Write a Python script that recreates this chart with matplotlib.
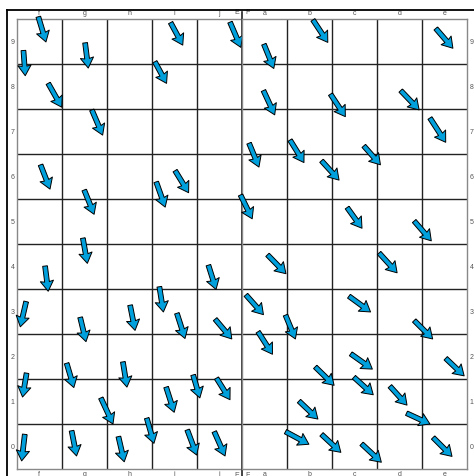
import matplotlib
matplotlib.use("Agg")
import matplotlib.pyplot as plt
from matplotlib.lines import Line2D
import numpy as np

plt.rcParams['font.family'] = ['Liberation Sans', 'DejaVu Sans']

# ---- data ----
left_cols = ['f', 'g', 'h', 'i', 'j']
right_cols = ['a', 'b', 'c', 'd', 'e']
row_labels = [str(i) for i in range(10)]

# left panel arrows: tail x, tail y, u, v (cell units)
left_x = [0.48, 1.52, 0.15, 0.70, 3.42, 3.07, 4.74, 1.67, 0.53, 1.50, 3.10, 3.52, 1.47,
          0.63, 4.26, 0.21, 3.17, 1.41, 2.52, 3.56, 4.41, 1.11, 2.36, 0.22, 3.92, 4.44,
          3.32, 1.87, 0.18, 1.22, 2.26, 2.89, 3.79, 4.39]
left_y = [10.05, 9.47, 9.30, 8.57, 9.92, 9.05, 9.93, 7.98, 6.76, 6.20, 6.38, 6.63, 5.13,
          4.51, 4.53, 3.72, 4.05, 3.37, 3.64, 3.46, 3.33, 2.35, 2.38, 2.13, 2.09, 2.02,
          1.82, 1.58, 0.77, 0.85, 0.72, 1.13, 0.87, 0.83]
left_u = [0.17, 0.07, 0.04, 0.30, 0.27, 0.26, 0.24, 0.24, 0.21, 0.22, 0.20, 0.30, 0.10,
          0.07, 0.17, -0.13, 0.09, 0.13, 0.11, 0.18, 0.37, 0.16, 0.09, -0.09, 0.15, 0.30,
          0.18, 0.27, -0.07, 0.11, 0.13, 0.16, 0.21, 0.24]
left_v = [-0.56, -0.56, -0.56, -0.53, -0.50, -0.48, -0.56, -0.56, -0.54, -0.54, -0.56, -0.49, -0.56,
          -0.56, -0.54, -0.56, -0.56, -0.54, -0.56, -0.56, -0.44, -0.54, -0.56, -0.53, -0.51, -0.48,
          -0.56, -0.58, -0.59, -0.56, -0.56, -0.56, -0.56, -0.54]

# right panel arrows
right_x = [0.48, 1.57, 4.30, 0.47, 1.96, 3.52, 4.17, 0.15, 1.06, 1.76, 2.70, -0.04, 2.33,
           3.82, 0.56, 3.04, 0.08, 0.96, 0.35, 2.37, 3.82, 2.41, 1.62, 4.52, 2.48, 3.28,
           1.26, 3.65, 0.96, 1.76, 2.65, 4.24]
right_y = [9.44, 9.98, 9.79, 8.41, 8.33, 8.41, 7.80, 7.24, 7.31, 6.85, 7.18, 6.09, 5.81,
           5.51, 4.76, 4.80, 3.87, 3.42, 3.05, 3.84, 3.30, 2.56, 2.27, 2.46, 2.04, 1.84,
           1.51, 1.24, 0.83, 0.77, 0.56, 0.70]
right_u = [0.22, 0.33, 0.38, 0.25, 0.33, 0.41, 0.35, 0.22, 0.31, 0.39, 0.37, 0.26, 0.33,
           0.38, 0.41, 0.40, 0.39, 0.22, 0.32, 0.48, 0.41, 0.48, 0.42, 0.41, 0.43, 0.38,
           0.42, 0.52, 0.52, 0.43, 0.44, 0.42]
right_v = [-0.54, -0.50, -0.44, -0.54, -0.50, -0.43, -0.54, -0.53, -0.50, -0.43, -0.42, -0.53, -0.46,
           -0.44, -0.42, -0.44, -0.44, -0.53, -0.50, -0.35, -0.41, -0.34, -0.41, -0.39, -0.39, -0.42,
           -0.40, -0.24, -0.28, -0.40, -0.41, -0.42]

# ---- figure ----
W, H = 474, 476
fig = plt.figure(figsize=(W / 100, H / 100), dpi=100)

ax_l = fig.add_axes([16.7 / W, 7 / H, 225 / W, 450 / H])
ax_r = fig.add_axes([242.3 / W, 7 / H, 225 / W, 450 / H])

arrow_col = '#00a0dc'
grid_col = '#222222'
spine_col = '#888888'
lab_col = '#555555'


def style(ax, cols, side):
    ax.set_xlim(0, 5)
    ax.set_ylim(0, 10)
    for k in range(1, 5):
        ax.axvline(k, color=grid_col, lw=1.0, zorder=1)
    for k in range(1, 10):
        ax.axhline(k, color=grid_col, lw=1.0, zorder=1)
    ax.set_xticks(np.arange(5) + 0.5)
    ax.set_xticklabels(cols)
    ax.set_yticks(np.arange(10) + 0.5)
    ax.set_yticklabels(row_labels)
    ax.tick_params(axis='x', top=True, labeltop=True, bottom=True, labelbottom=True,
                   length=0, pad=1.2, labelsize=5, labelcolor=lab_col)
    if side == 'left':
        ax.tick_params(axis='y', left=True, labelleft=True, right=False, labelright=False,
                       length=0, pad=1.5, labelsize=5, labelcolor=lab_col)
    else:
        ax.tick_params(axis='y', left=False, labelleft=False, right=True, labelright=True,
                       length=0, pad=1.5, labelsize=5, labelcolor=lab_col)
    for s in ax.spines.values():
        s.set_color(spine_col)
        s.set_linewidth(1.0)


style(ax_l, left_cols, 'left')
style(ax_r, right_cols, 'right')

# central dividing line
ax_l.plot([5, 5], [-0.16, 10.15], color=grid_col, lw=1.2, clip_on=False, zorder=3)

# E / F edge labels
for yy, va in [(10.0, 'bottom'), (0.0, 'top')]:
    off = 2.5 if va == 'bottom' else -2.0
    ax_l.annotate('E', (5, yy), xytext=(-2, off), textcoords='offset points',
                  ha='right', va=va, fontsize=5, color=lab_col, annotation_clip=False)
    ax_r.annotate('F', (0, yy), xytext=(2, off), textcoords='offset points',
                  ha='left', va=va, fontsize=5, color=lab_col, annotation_clip=False)

qkw = dict(angles='xy', scale_units='xy', scale=1, units='xy', width=0.105,
           headwidth=2.8, headlength=2.2, headaxislength=2.0, pivot='tail',
           color=arrow_col, edgecolor='black', linewidth=0.7, zorder=4, clip_on=False)
ax_l.quiver(left_x, left_y, left_u, left_v, **qkw)
ax_r.quiver(right_x, right_y, right_u, right_v, **qkw)

# outer border (top and left edges of the frame)
fig.add_artist(Line2D([7 / W, 1.0], [1 - 10 / H, 1 - 10 / H], transform=fig.transFigure,
                      color='black', lw=1.3))
fig.add_artist(Line2D([7 / W, 7 / W], [0.0, 1 - 10 / H], transform=fig.transFigure,
                      color='black', lw=1.3))

fig.savefig('out.png', dpi=100)
